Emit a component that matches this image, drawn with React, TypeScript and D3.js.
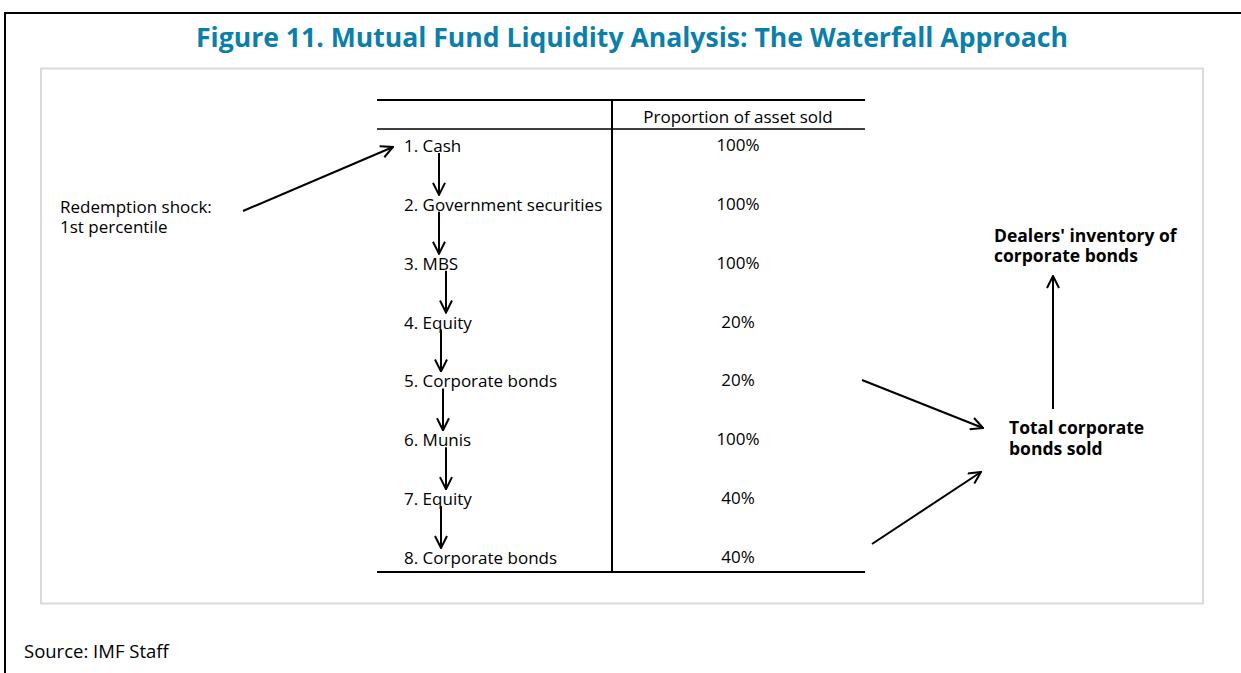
import React from "react";
import * as d3 from "d3";

const steps = [
  "1. Cash",
  "2. Government securities",
  "3. MBS",
  "4. Equity",
  "5. Corporate bonds",
  "6. Munis",
  "7. Equity",
  "8. Corporate bonds",
];
const proportions = [100, 100, 100, 20, 20, 100, 40, 40];
const arrowXs = [439, 439, 446, 441, 443, 446, 441];

const title = "Figure 11. Mutual Fund Liquidity Analysis: The Waterfall Approach";
const headerLabel = "Proportion of asset sold";
const shockLabel = ["Redemption shock:", "1st percentile"];
const totalLabel = ["Total corporate", "bonds sold"];
const dealerLabel = ["Dealers' inventory of", "corporate bonds"];
const sourceLabel = "Source: IMF Staff";

const W = 1241, H = 673;
const font = "'Open Sans', 'Noto Sans', sans-serif";
const fs = 17;

export default function App() {
  const y = d3.scalePoint<number>().domain(d3.range(steps.length)).range([146, 558]);
  const tableLeft = 377, tableRight = 865, divider = 612;
  const valX = 738;

  const arrow = (x1: number, y1: number, x2: number, y2: number, key: string) => (
    <line key={key} x1={x1} y1={y1} x2={x2} y2={y2} stroke="#000" strokeWidth={2} markerEnd="url(#head)" />
  );

  return (
    <svg width={W} height={H} style={{ position: "absolute", left: 0, top: 0 }}>
      <defs>
        <marker id="head" viewBox="0 0 14 14" refX={13} refY={7} markerWidth={14} markerHeight={14}
          markerUnits="userSpaceOnUse" orient="auto">
          <path d="M1,1 L13,7 L1,13" fill="none" stroke="#000" strokeWidth={2} />
        </marker>
      </defs>
      <rect width={W} height={H} fill="#fff" />
      {/* outer frame */}
      <path d={`M5,${H} L5,13 L${W},13`} fill="none" stroke="#000" strokeWidth={2} />
      <text x={632} y={47} textAnchor="middle" fontFamily={font} fontWeight="bold" fontSize={26.5}
        fill="#0b7fab" textLength={872} lengthAdjust="spacingAndGlyphs">{title}</text>
      {/* inner panel */}
      <rect x={41} y={68.5} width={1162} height={535} fill="none" stroke="#dadada" strokeWidth={2} />

      {/* table */}
      <line x1={tableLeft} x2={tableRight} y1={100} y2={100} stroke="#000" strokeWidth={2} />
      <line x1={tableLeft} x2={tableRight} y1={129} y2={129} stroke="#000" strokeWidth={1.5} />
      <line x1={tableLeft} x2={tableRight} y1={572} y2={572} stroke="#000" strokeWidth={2} />
      <line x1={divider} x2={divider} y1={100} y2={572} stroke="#000" strokeWidth={2} />
      <text x={valX} y={123} textAnchor="middle" fontFamily={font} fontSize={fs}>{headerLabel}</text>

      {steps.map((s, i) => (
        <g key={s + i}>
          <text x={404} y={(y(i) as number) + 6} fontFamily={font} fontSize={fs}>{s}</text>
          <text x={valX} y={(y(i) as number) + 5} textAnchor="middle" fontFamily={font} fontSize={fs}>
            {proportions[i]}%
          </text>
        </g>
      ))}
      {arrowXs.map((x, i) => arrow(x, (y(i) as number) + 7, x, (y(i + 1) as number) - 10, "d" + i))}

      {/* redemption shock */}
      <text fontFamily={font} fontSize={fs}>
        {shockLabel.map((t, i) => (
          <tspan key={t} x={60} y={213 + i * 20}>{t}</tspan>
        ))}
      </text>
      {arrow(243, 211, 393, 147, "shock")}

      {/* flows to total */}
      {arrow(862, 380, 983, 428, "c5")}
      {arrow(872, 544, 981, 472, "c8")}
      <text fontFamily={font} fontSize={17.5} fontWeight="bold">
        {totalLabel.map((t, i) => (
          <tspan key={t} x={1009} y={434 + i * 21}>{t}</tspan>
        ))}
      </text>
      {arrow(1053, 409, 1053, 276, "up")}
      <text fontFamily={font} fontSize={17.5} fontWeight="bold">
        {dealerLabel.map((t, i) => (
          <tspan key={t} x={994} y={242 + i * 20}>{t}</tspan>
        ))}
      </text>

      <text x={24} y={658} fontFamily={font} fontSize={18.5}>{sourceLabel}</text>
    </svg>
  );
}
